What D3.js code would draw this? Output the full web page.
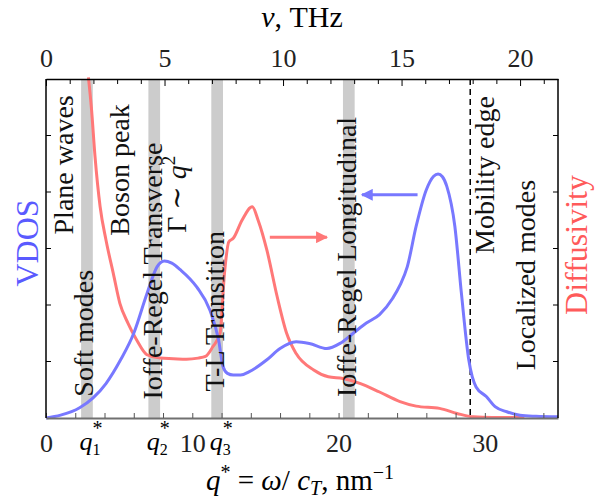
<!DOCTYPE html>
<html>
<head>
<meta charset="utf-8">
<script src="https://cdn.jsdelivr.net/npm/d3@7"></script>
<style>
  body { margin: 0; background: #fff; }
  text { font-family: "Liberation Serif", "DejaVu Serif", serif; }
</style>
</head>
<body>
<div id="chart"></div>
<script>
// q* values (nm^-1) and VDOS (arb. units)
var qVdos = [0, 1, 2.3, 3.2, 4.1, 5.1, 6.0, 6.9, 7.6, 8.1, 8.6, 9.2, 10.3, 11.2, 11.8, 12.1, 12.4, 12.8, 13.3, 13.9, 15.1, 16.0, 17.1, 18.0, 19.2, 20.1, 21.0, 21.9, 22.8, 23.7, 24.2, 24.7, 25.3, 26.0, 26.5, 26.8, 27.1, 27.4, 27.95, 28.4, 28.9, 29.4, 30.1, 30.7, 31.5, 32.4, 33.5, 35];
var vdos = [0, 0.05, 0.18, 0.35, 0.61, 1.03, 1.5, 2.2, 2.68, 2.78, 2.74, 2.62, 2.32, 1.91, 1.38, 0.91, 0.79, 0.76, 0.76, 0.82, 1.03, 1.23, 1.35, 1.32, 1.23, 1.32, 1.5, 1.68, 1.83, 2.12, 2.35, 2.68, 3.39, 4.04, 4.28, 4.32, 4.27, 4.1, 3.39, 2.2, 1.03, 0.55, 0.38, 0.2, 0.11, 0.05, 0.03, 0.02];

// q* values and diffusivity (arb. units)
var qDiff = [2.9, 3.1, 3.35, 3.7, 4.1, 4.6, 5.05, 5.6, 6.2, 6.9, 7.8, 8.7, 9.6, 10.4, 10.9, 11.4, 11.9, 12.2, 12.5, 12.8, 13.4, 14.1, 14.5, 15.1, 15.8, 16.45, 17.1, 18.3, 19.3, 20.3, 21.5, 22.8, 24.2, 25.3, 26.9, 28.1, 29.2, 30.5, 32.7];
var diff = [6.03, 5.5, 4.63, 3.74, 3.15, 2.56, 2.03, 1.68, 1.38, 1.12, 1.06, 1.05, 1.04, 1.06, 1.09, 1.26, 1.5, 2.56, 3.12, 3.18, 3.5, 3.74, 3.5, 2.97, 2.15, 1.5, 1.14, 0.85, 0.73, 0.7, 0.61, 0.46, 0.29, 0.21, 0.17, 0.08, 0.02, 0.01, 0.01];

// characteristic wavenumbers (gray bands)
var bandQ = [2.8, 7.4, 11.7, 20.7];
var bandNames = ["1", "2", "3", null];
var mobilityEdge = 29.0;

// tick values
var qTicks = d3.range(0, 35, 2);
var qLabels = [0, 10, 20, 30];
var nuTicks = d3.range(0, 22, 1);
var nuLabels = [0, 5, 10, 15, 20];
var yTicks = [1, 2, 3, 4, 5];

// vertical annotations: [text, q (baseline), y (center)]
var notes = [
  ["Plane waves", 1.85, 4.48],
  ["Soft modes", 3.2, 1.50],
  ["Boson peak", 5.7, 4.39],
  ["Ioffe-Regel Transverse", 7.9, 2.60],
  ["T-L Transition", 12.2, 1.89],
  ["Ioffe-Regel Longitudinal", 21.2, 2.85],
  ["Mobility edge", 30.6, 4.30],
  ["Localized modes", 33.4, 2.53]
];
// arrows: [qFrom, qTo, y]
var redArrow = [15.3, 19.2, 3.2];
var blueArrow = [25.4, 21.6, 3.95];

var W = 602, H = 502,
    L = 46, R = 558, T = 79, B = 418,
    BLUE = "#7878ff", RED = "#ff7878",
    NU_MAX = 21.6;

var svg = d3.select("#chart").append("svg")
  .attr("width", W).attr("height", H);

var x = d3.scaleLinear().domain([0, 35]).range([L, R]);
var xTop = d3.scaleLinear().domain([0, NU_MAX]).range([L, R]);
var y = d3.scaleLinear().domain([0, 6]).range([B, T]);

var defs = svg.append("defs");
[["head-red", RED], ["head-blue", BLUE]].forEach(function(m){
  defs.append("marker")
    .attr("id", m[0])
    .attr("viewBox", "0 0 10 10")
    .attr("refX", 9).attr("refY", 5)
    .attr("markerWidth", 5).attr("markerHeight", 4)
    .attr("markerUnits", "strokeWidth")
    .attr("orient", "auto")
    .append("path").attr("d", "M0,0 L10,5 L0,10 z").attr("fill", m[1]);
});

// gray bands
svg.selectAll(".band").data(bandQ).enter().append("rect")
  .attr("class", "band")
  .attr("x", function(d){ return x(d - 0.4); })
  .attr("width", function(d){ return x(0.8) - x(0); })
  .attr("y", T).attr("height", B - T)
  .attr("fill", "#cccccc");

// mobility edge
svg.append("line")
  .attr("x1", x(mobilityEdge)).attr("x2", x(mobilityEdge))
  .attr("y1", T).attr("y2", B)
  .attr("stroke", "#000").attr("stroke-width", 1.5)
  .attr("stroke-dasharray", "6,4");

// curves
var line = d3.line().curve(d3.curveMonotoneX)
  .x(function(d){ return x(d[0]); })
  .y(function(d){ return y(d[1]); });

svg.append("path")
  .datum(d3.zip(qDiff, diff))
  .attr("d", line).attr("fill", "none")
  .attr("stroke", RED).attr("stroke-width", 3);

svg.append("path")
  .datum(d3.zip(qVdos, vdos))
  .attr("d", line).attr("fill", "none")
  .attr("stroke", BLUE).attr("stroke-width", 3);

// arrows
svg.append("line")
  .attr("x1", x(redArrow[0])).attr("x2", x(redArrow[1]))
  .attr("y1", y(redArrow[2])).attr("y2", y(redArrow[2]))
  .attr("stroke", RED).attr("stroke-width", 3)
  .attr("marker-end", "url(#head-red)");
svg.append("line")
  .attr("x1", x(blueArrow[0])).attr("x2", x(blueArrow[1]))
  .attr("y1", y(blueArrow[2])).attr("y2", y(blueArrow[2]))
  .attr("stroke", BLUE).attr("stroke-width", 3)
  .attr("marker-end", "url(#head-blue)");

// bottom axis
var gB = svg.append("g")
  .attr("transform", "translate(0," + B + ")")
  .call(d3.axisBottom(x).tickValues(qTicks).tickSizeInner(-5).tickSizeOuter(0)
    .tickFormat(function(d){ return qLabels.indexOf(d) >= 0 ? d : ""; }));
gB.select(".domain").attr("stroke", "#707070").attr("stroke-width", 2);
gB.selectAll(".tick line").attr("stroke", "#555");
gB.selectAll(".tick text").attr("font-size", 26).attr("fill", "#222")
  .attr("font-family", "Liberation Serif").attr("dy", null).attr("y", 34);

// top axis
var gT = svg.append("g")
  .attr("transform", "translate(0," + T + ")")
  .call(d3.axisTop(xTop).tickValues(nuTicks).tickSizeOuter(0)
    .tickFormat(function(d){ return nuLabels.indexOf(d) >= 0 ? d : ""; }));
gT.select(".domain").attr("stroke", "#000").attr("stroke-width", 1.5);
gT.selectAll(".tick line")
  .attr("y2", function(d){ return d % 5 === 0 ? 7 : 5; })
  .attr("stroke", "#000");
gT.selectAll(".tick text").attr("font-size", 26).attr("fill", "#222")
  .attr("font-family", "Liberation Serif").attr("y", -12);

// left and right frame with inward ticks
[[L, 1], [R, -1]].forEach(function(s){
  svg.append("line")
    .attr("x1", s[0]).attr("x2", s[0]).attr("y1", T).attr("y2", B)
    .attr("stroke", "#000").attr("stroke-width", 1.5);
  svg.selectAll(null).data(yTicks).enter().append("line")
    .attr("x1", s[0]).attr("x2", s[0] + 5 * s[1])
    .attr("y1", function(d){ return y(d); })
    .attr("y2", function(d){ return y(d); })
    .attr("stroke", "#000");
});

// q* labels under bands
bandQ.forEach(function(q, i){
  if (!bandNames[i]) return;
  var t = svg.append("text")
    .attr("x", x(q) + 4).attr("y", 450)
    .attr("text-anchor", "middle").attr("font-size", 26);
  t.append("tspan").attr("font-style", "italic").text("q");
  t.append("tspan").attr("font-size", 16).attr("dy", 5).text(bandNames[i]);
  t.append("tspan").attr("font-size", 20).attr("dx", -8).attr("dy", -20).text("*");
});

// vertical annotations
notes.forEach(function(n){
  svg.append("text")
    .attr("transform", "translate(" + x(n[1]) + "," + y(n[2]) + ") rotate(-90)")
    .attr("text-anchor", "middle").attr("font-size", 28)
    .attr("fill", "#111")
    .text(n[0]);
});

// Gamma ~ q^2
var g = svg.append("text")
  .attr("transform", "translate(" + x(9.6) + "," + y(3.96) + ") rotate(-90)")
  .attr("text-anchor", "middle").attr("font-size", 28).attr("fill", "#111");
g.append("tspan").text("Γ ∼ ");
g.append("tspan").attr("font-style", "italic").text("q");
g.append("tspan").attr("font-size", 19).attr("dy", -11).text("2");

// axis titles
svg.append("text")
  .attr("x", (L + R) / 2).attr("y", 27)
  .attr("text-anchor", "middle").attr("font-size", 30)
  .html('<tspan font-style="italic">ν</tspan>, THz');

var bt = svg.append("text")
  .attr("x", 300).attr("y", 490)
  .attr("text-anchor", "middle").attr("font-size", 29);
bt.append("tspan").attr("font-style", "italic").text("q");
bt.append("tspan").attr("font-size", 20).attr("dy", -11).text("*");
bt.append("tspan").attr("dy", 11).text(" = ");
bt.append("tspan").attr("font-style", "italic").text("ω");
bt.append("tspan").text("/ ");
bt.append("tspan").attr("font-style", "italic").text("c");
bt.append("tspan").attr("font-style", "italic").attr("font-size", 20).attr("dy", 5).text("T");
bt.append("tspan").attr("dy", -5).text(", nm");
bt.append("tspan").attr("font-size", 20).attr("dy", -11).text("−1");

svg.append("text")
  .attr("transform", "translate(38,243) rotate(-90)")
  .attr("text-anchor", "middle").attr("font-size", 32)
  .attr("fill", "#5a5aff").text("VDOS");

svg.append("text")
  .attr("transform", "translate(587,245) rotate(-90)")
  .attr("text-anchor", "middle").attr("font-size", 32)
  .attr("fill", "#ff5a5a").text("Diffusivity");
</script>
</body>
</html>
